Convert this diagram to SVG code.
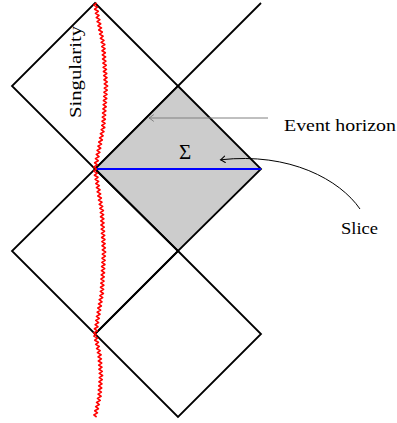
<svg xmlns="http://www.w3.org/2000/svg" width="397" height="423" viewBox="0 0 397 423">
<style>
.edge{fill:none;stroke:#000;stroke-width:1.8;stroke-linejoin:miter}
.lbl{font-family:"Liberation Serif","DejaVu Serif",serif;font-size:17px;fill:#000}
.sing{fill:none;stroke:#ff0000;stroke-width:1.6;stroke-linejoin:round}
</style>
<defs>
<marker id="ahGray" viewBox="-6 -4 7 8" markerWidth="7" markerHeight="8" refX="0" refY="0" orient="auto" markerUnits="userSpaceOnUse">
<path d="M-4.5,-3.2 Q-1.2,-0.6 0,0 Q-1.2,0.6 -4.5,3.2" fill="none" stroke="#808080" stroke-width="1" stroke-linecap="round"/>
</marker>
<marker id="ahBlack" viewBox="-6 -4 7 8" markerWidth="7" markerHeight="8" refX="0" refY="0" orient="auto" markerUnits="userSpaceOnUse">
<path d="M-4.5,-3.2 Q-1.2,-0.6 0,0 Q-1.2,0.6 -4.5,3.2" fill="none" stroke="#000" stroke-width="1" stroke-linecap="round"/>
</marker>
</defs>
<rect width="397" height="423" fill="#fff"/>

<g id="region-top-left">
<path class="edge" d="M95,3 L178,86 L95,169 L12,86 Z"/>
</g>
<g id="region-top-right">
<path class="edge" d="M178,86 L261,3"/>
</g>
<g id="region-exterior">
<path d="M178,86 L261,169 L178,251 L95,169 Z" fill="#cccccc" stroke="#000" stroke-width="1.8"/>
</g>
<g id="region-bottom-left">
<path class="edge" d="M95,169 L178,251 L95,334 L12,251 Z"/>
</g>
<g id="region-bottom-right">
<path class="edge" d="M178,251 L261,334 L178,417 L95,334 Z"/>
</g>

<g id="slice-sigma">
<line x1="95" y1="169" x2="261" y2="169" stroke="#0000ff" stroke-width="1.8"/>
<text class="lbl" x="185" y="159" text-anchor="middle" style="font-size:21px">Σ</text>
</g>

<g id="singularity">
<path class="sing" d="M96.6,3
l-2.79,2.075l3.61,2.075l-2.79,2.075l3.61,2.075l-2.79,2.075l3.61,2.075l-2.79,2.075l3.61,2.075l-2.79,2.075l3.61,2.075l-2.79,2.075l3.61,2.075l-2.79,2.075l3.61,2.075l-2.79,2.075l3.61,2.075l-2.79,2.075l3.61,2.075l-2.79,2.075l3.61,2.075
l-3.06,2.075l3.34,2.075l-3.06,2.075l3.34,2.075l-3.06,2.075l3.34,2.075l-3.06,2.075l3.34,2.075l-3.06,2.075l3.34,2.075l-3.06,2.075l3.34,2.075l-3.06,2.075l3.34,2.075l-3.06,2.075l3.34,2.075l-3.06,2.075l3.34,2.075l-3.06,2.075l3.34,2.075
l-3.34,2.075l3.06,2.075l-3.34,2.075l3.06,2.075l-3.34,2.075l3.06,2.075l-3.34,2.075l3.06,2.075l-3.34,2.075l3.06,2.075l-3.34,2.075l3.06,2.075l-3.34,2.075l3.06,2.075l-3.34,2.075l3.06,2.075l-3.34,2.075l3.06,2.075l-3.34,2.075l3.06,2.075
l-3.61,2.075l2.79,2.075l-3.61,2.075l2.79,2.075l-3.61,2.075l2.79,2.075l-3.61,2.075l2.79,2.075l-3.61,2.075l2.79,2.075l-3.61,2.075l2.79,2.075l-3.61,2.075l2.79,2.075l-3.61,2.075l2.79,2.075l-3.61,2.075l2.79,2.075l-3.61,2.075l2.79,2.075"/>
<path class="sing" d="M96.6,169
l-2.86,2.075l3.54,2.075l-2.86,2.075l3.54,2.075l-2.86,2.075l3.54,2.075l-2.86,2.075l3.54,2.075l-2.86,2.075l3.54,2.075l-2.86,2.075l3.54,2.075l-2.86,2.075l3.54,2.075l-2.86,2.075l3.54,2.075l-2.86,2.075l3.54,2.075l-2.86,2.075l3.54,2.075
l-3.09,2.075l3.31,2.075l-3.09,2.075l3.31,2.075l-3.09,2.075l3.31,2.075l-3.09,2.075l3.31,2.075l-3.09,2.075l3.31,2.075l-3.09,2.075l3.31,2.075l-3.09,2.075l3.31,2.075l-3.09,2.075l3.31,2.075l-3.09,2.075l3.31,2.075l-3.09,2.075l3.31,2.075
l-3.31,2.075l3.09,2.075l-3.31,2.075l3.09,2.075l-3.31,2.075l3.09,2.075l-3.31,2.075l3.09,2.075l-3.31,2.075l3.09,2.075l-3.31,2.075l3.09,2.075l-3.31,2.075l3.09,2.075l-3.31,2.075l3.09,2.075l-3.31,2.075l3.09,2.075l-3.31,2.075l3.09,2.075
l-3.54,2.075l2.86,2.075l-3.54,2.075l2.86,2.075l-3.54,2.075l2.86,2.075l-3.54,2.075l2.86,2.075l-3.54,2.075l2.86,2.075l-3.54,2.075l2.86,2.075l-3.54,2.075l2.86,2.075l-3.54,2.075l2.86,2.075l-3.54,2.075l2.86,2.075l-3.54,2.075l2.86,2.075"/>
<path class="sing" d="M96.6,334
l-2.75,2.075l3.65,2.075l-2.75,2.075l3.65,2.075l-2.75,2.075l3.65,2.075l-2.75,2.075l3.65,2.075l-2.75,2.075l3.65,2.075
l-3.05,2.075l3.35,2.075l-3.05,2.075l3.35,2.075l-3.05,2.075l3.35,2.075l-3.05,2.075l3.35,2.075l-3.05,2.075l3.35,2.075
l-3.35,2.075l3.05,2.075l-3.35,2.075l3.05,2.075l-3.35,2.075l3.05,2.075l-3.35,2.075l3.05,2.075l-3.35,2.075l3.05,2.075
l-3.65,2.075l2.75,2.075l-3.65,2.075l2.75,2.075l-3.65,2.075l2.75,2.075l-3.65,2.075l2.75,2.075l-3.65,2.075l2.75,2.075"/>
<text class="lbl" x="81" y="72" text-anchor="middle" textLength="92" lengthAdjust="spacingAndGlyphs" transform="rotate(-90 81 72)">Singularity</text>
</g>

<g id="label-event-horizon">
<text class="lbl" x="284" y="131" textLength="112" lengthAdjust="spacingAndGlyphs">Event horizon</text>
</g>
<g id="label-slice">
<text class="lbl" x="341" y="234" textLength="37" lengthAdjust="spacingAndGlyphs">Slice</text>
</g>

<g id="connectors">
<path d="M268,118 L149,118" fill="none" stroke="#808080" stroke-width="1" marker-end="url(#ahGray)"/>
<path d="M360,209 C340,180 290,152 220.5,159.8" fill="none" stroke="#000" stroke-width="1" marker-end="url(#ahBlack)"/>
</g>
</svg>
